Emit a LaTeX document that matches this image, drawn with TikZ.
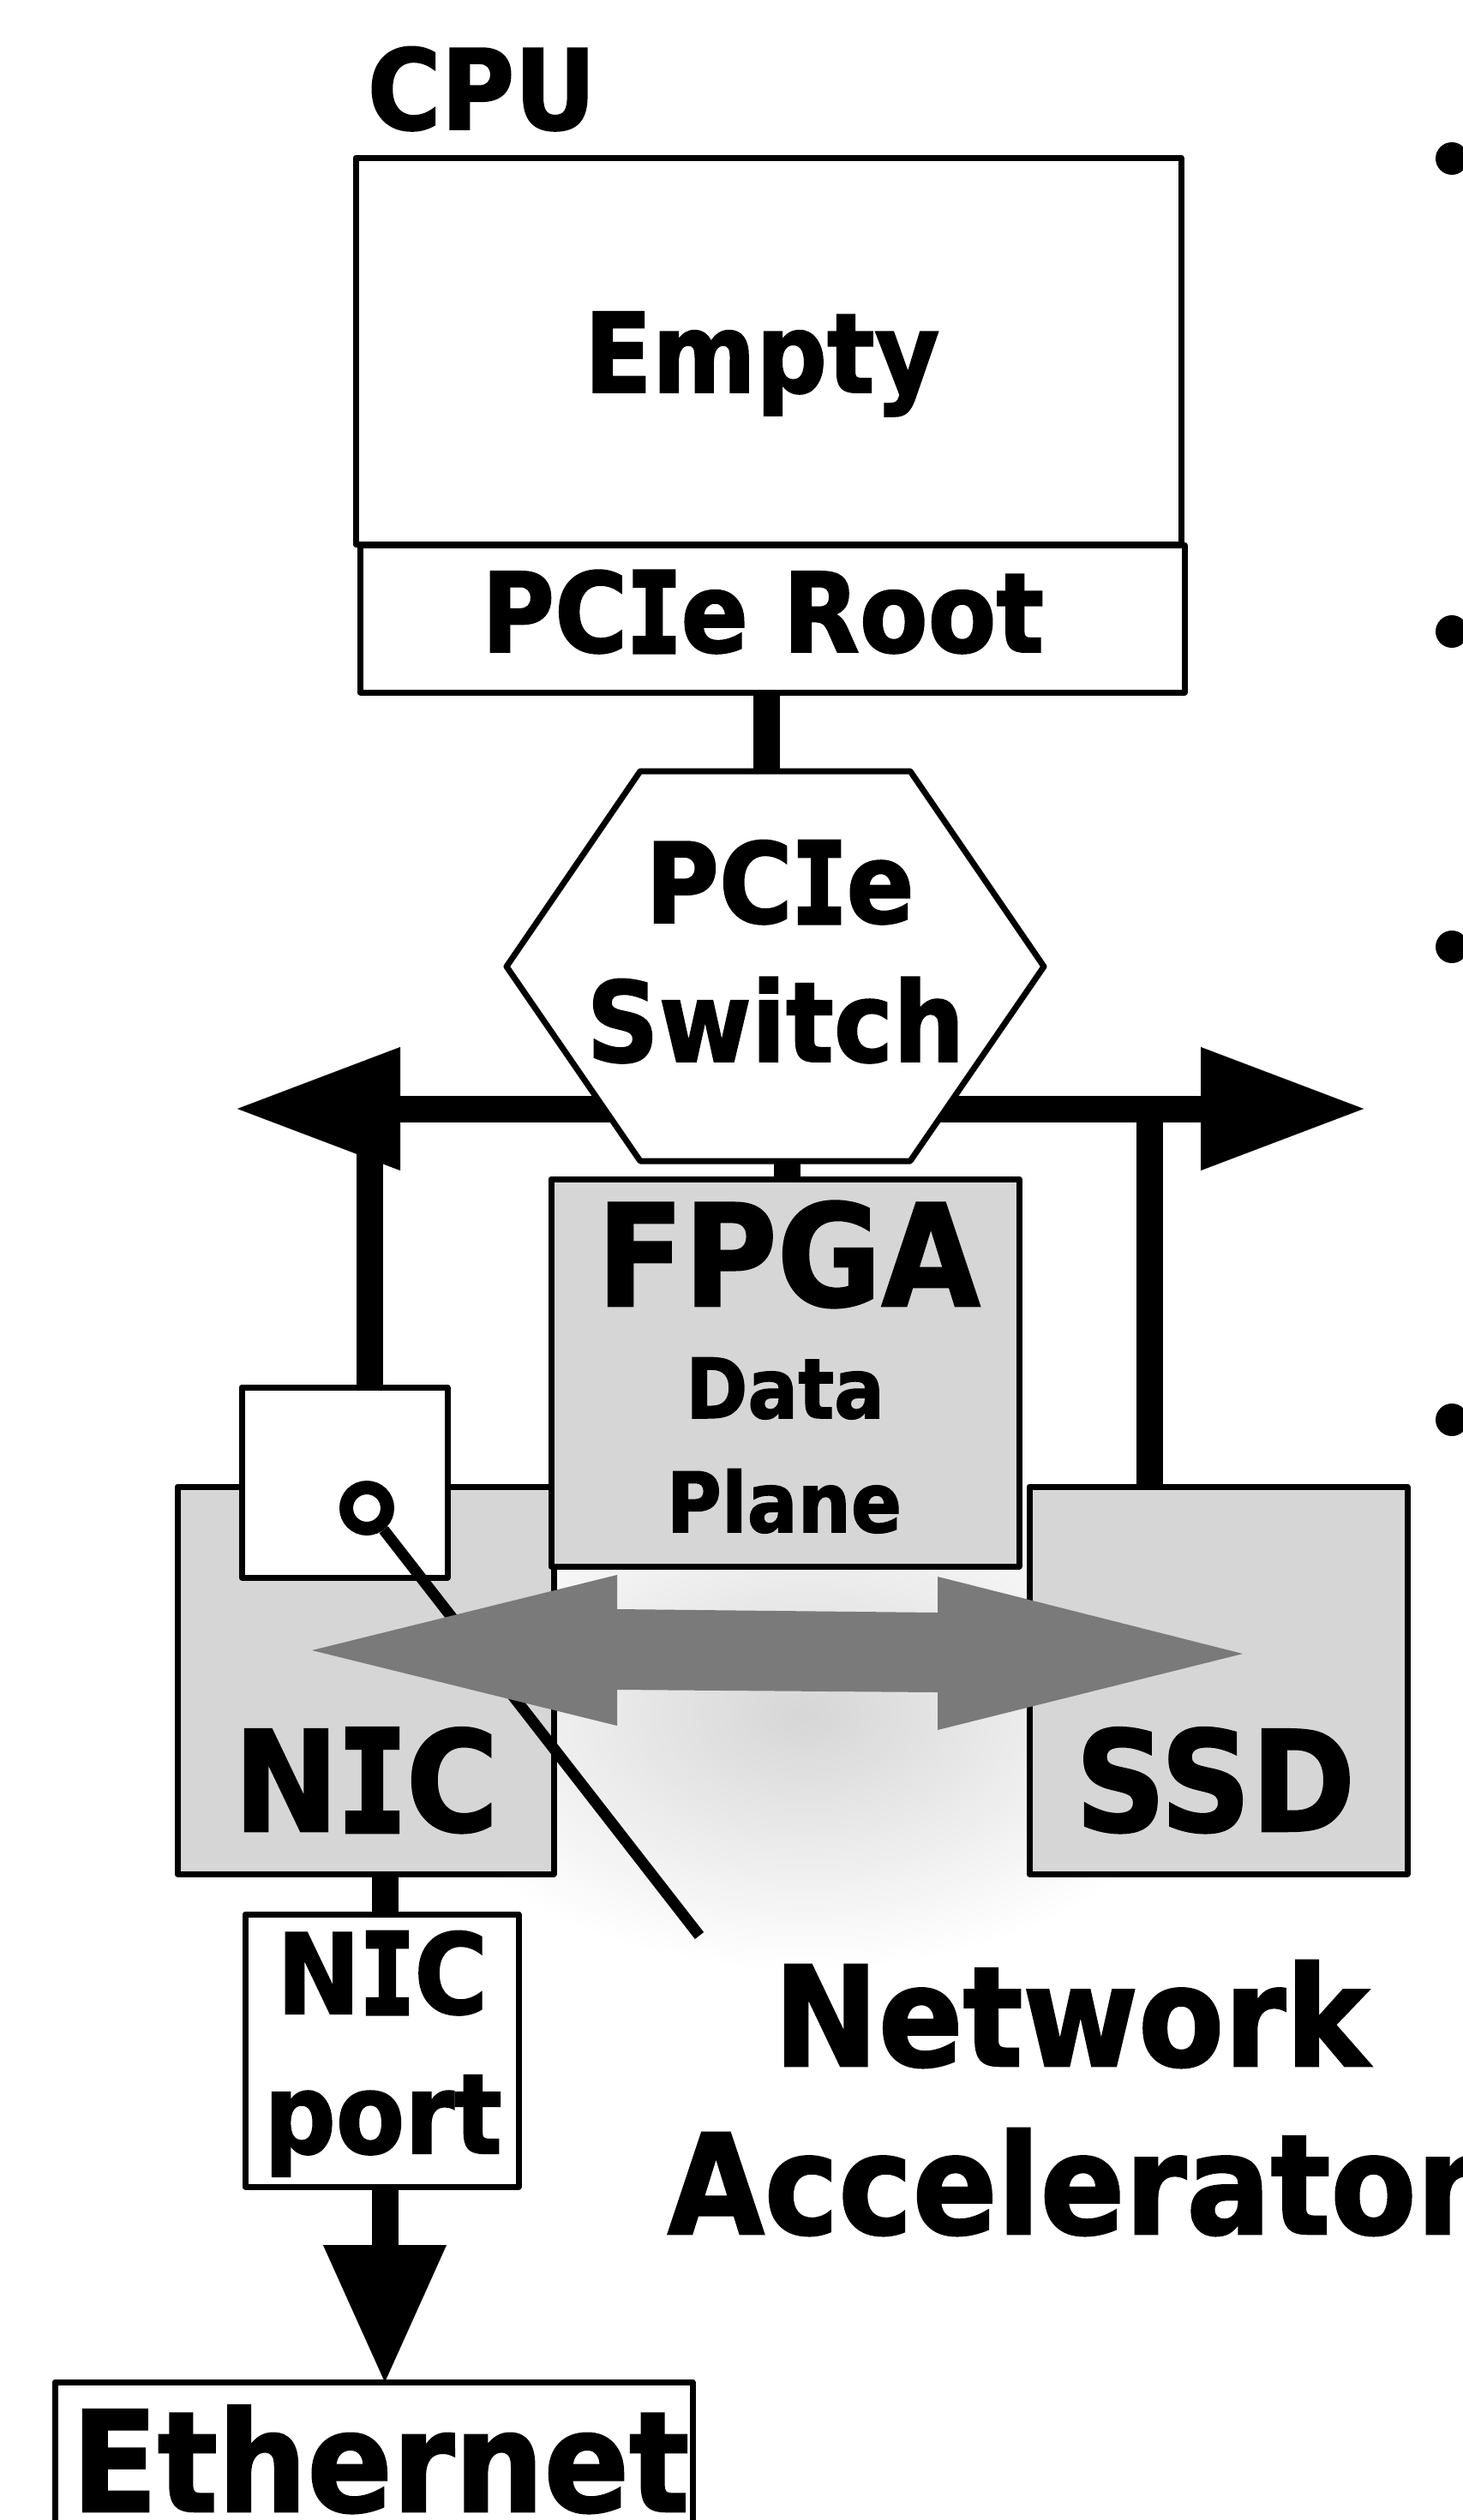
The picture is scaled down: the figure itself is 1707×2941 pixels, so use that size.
\documentclass[tikz,border=0pt]{standalone}
\usepackage{fontspec}
\newfontfamily\vf{DejaVu Sans}[FakeStretch=0.9, FakeBold=1.5]
\newfontfamily\vmono{DejaVu Sans Mono}[FakeStretch=0.8, FakeBold=4]
\usetikzlibrary{arrows.meta}
\definecolor{boxgray}{HTML}{D6D6D6}
\definecolor{arrgray}{HTML}{7A7A7A}
\definecolor{glowc}{HTML}{D6D6D6}
\pgfdeclareradialshading{glow}{\pgfpoint{0bp}{0bp}}{color(0bp)=(glowc); color(25bp)=(white); color(50bp)=(white)}
\pgfdeclarelayer{glowlayer}
\pgfdeclarelayer{bglayer}
\pgfsetlayers{glowlayer,bglayer,main}
\newcommand{\fsz}[1]{\fontsize{#1}{#1}\selectfont}
\newcommand{\serI}{{\vmono I}}
\tikzset{
  box/.style={draw, line width=7pt, fill=white, inner sep=0pt, outer sep=0pt, line join=round},
  gbox/.style={box, fill=boxgray},
  wire/.style={line width=31pt},
  lbl/.style={inner sep=0pt, outer sep=0pt, anchor=base},
  bustip/.tip={Triangle[length=190pt, width=144pt, line width=0.1pt]},
  ethtip/.tip={Triangle[length=160pt, width=144pt, line width=0.1pt]},
}
\begin{document}
\begin{tikzpicture}[x=1pt,y=-1pt]
\useasboundingbox (0,0) rectangle (1707,2941);

% boxes
\node[box, minimum width=963pt, minimum height=451pt] (empty) at (896.5,409.5) {};
\node[box, minimum width=962pt, minimum height=172pt] (root) at (901,722) {};
\draw[line width=7pt, fill=white, line join=round]
  (747,900) -- (1062,900) -- (1218,1128) -- (1062,1355) -- (747,1355) -- (591,1128) -- cycle;
\coordinate (swc) at (904.5,1127.5);
\coordinate (swtop) at (894,900);
\coordinate (swbot) at (918,1355);
\node[gbox, minimum width=439pt, minimum height=452pt] (nic) at (426.5,1961) {};
\node[box, minimum width=240pt, minimum height=222pt] (nicsw) at (402,1730) {};
\node[gbox, minimum width=441pt, minimum height=452pt] (ssd) at (1421.5,1961) {};
\node[gbox, minimum width=546pt, minimum height=452pt] (fpga) at (916,1602) {};
\node[box, minimum width=319pt, minimum height=318pt] (nicport) at (445.5,2393) {};
\node[box, minimum width=744pt, minimum height=220pt] (eth) at (436,2890) {};

% pointer ring and line
\node[draw, circle, line width=16pt, fill=white, minimum size=48pt, inner sep=0pt] (ring) at (428,1760) {};
\coordinate (ptr) at (816,2259);
\draw[line width=13pt] (ring) -- (ptr);

% gray double arrow
\fill[arrgray] (364,1926) -- (720,1838) -- (720,1878) -- (1094,1882) -- (1094,1840)
  -- (1450,1930) -- (1094,2019) -- (1094,1975) -- (720,1972) -- (720,2014) -- cycle;

% wires
\coordinate (busL) at (277,1294);
\coordinate (busR) at (1591,1294);
\coordinate (vL) at (431,1294);
\coordinate (vR) at (1341,1294);
\coordinate (xnic) at (449,0);
\begin{pgfonlayer}{bglayer}
\draw[wire] (root.south -| swtop) -- (swtop);
\draw[wire] (swbot) -- (fpga.north -| swbot);
\draw[wire, {bustip}-{bustip}] (busL) -- (busR);
\draw[wire] (vL) -- (nicsw.north -| vL);
\draw[wire] (vR) -- (ssd.north -| vR);
\draw[wire] (nic.south -| xnic) -- (nicport.north -| xnic);
\draw[wire, -{ethtip}] (nicport.south -| xnic) -- (eth.north -| xnic);
\end{pgfonlayer}
\begin{pgfonlayer}{glowlayer}
\shade[shading=glow] (460,1700) rectangle (1420,2300);
\end{pgfonlayer}

% texts
\node[lbl, font=\vf\bfseries\fsz{130}] (cput) at (562,151) {CPU};
\node[lbl, font=\vf\bfseries\fsz{129}] (emptyt) at (889,458) {Empty};
\node[lbl, font=\vf\bfseries\fsz{129}] (roott) at (890,761) {PC\serI e Root};
\node[lbl, font=\vf\bfseries\fsz{130}] (swt1) at (910,1077) {PC\serI e};
\node[lbl, font=\vf\bfseries\fsz{130}] (swt2) at (905,1239) {Switch};
\node[lbl, font=\vf\bfseries\fsz{165}] (fpgat) at (920,1524) {FPGA};
\node[lbl, font=\vf\bfseries\fsz{97}] (datat) at (916,1655) {Data};
\node[lbl, font=\vf\bfseries\fsz{97}] (planet) at (915,1788) {Plane};
\node[lbl, font=\vf\bfseries\fsz{163}] (nict) at (427,2137) {N\serI C};
\node[lbl, font=\vf\bfseries\fsz{163}] (ssdt) at (1418,2137) {SSD};
\node[lbl, font=\vf\bfseries\fsz{130}] (portt1) at (446,2350) {N\serI C};
\node[lbl, font=\vf\bfseries\fsz{130}] (portt2) at (447,2513) {port};
\node[lbl, font=\vf\bfseries\fsz{162}] (nat1) at (1250,2411) {Network};
\node[lbl, anchor=base west, font=\vf\bfseries\fsz{162}] (nat2) at (779,2607) {Accelerator};
\node[lbl, font=\vf\bfseries\fsz{163}] (etht) at (444,2931) {Ethernet};

% bullets of cut-off text
\fill (1694,185) circle (19);
\fill (1694,737) circle (19);
\fill (1694,1105) circle (19);
\fill (1694,1657) circle (19);
\end{tikzpicture}
\end{document}
